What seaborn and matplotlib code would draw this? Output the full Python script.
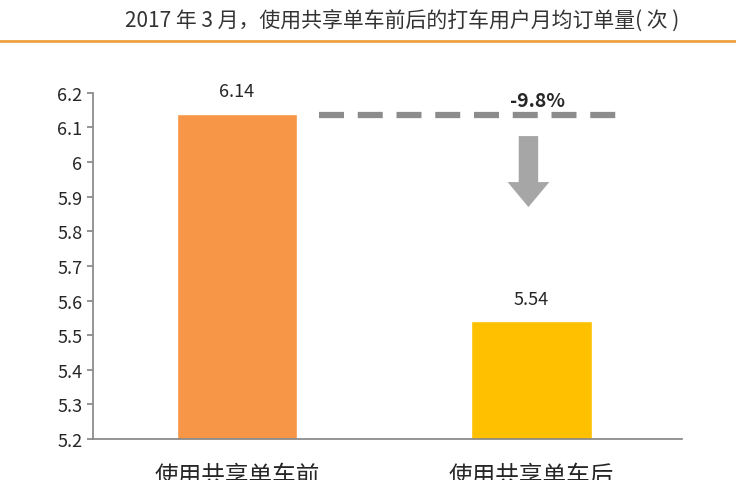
import matplotlib
matplotlib.use("Agg")
import matplotlib.pyplot as plt
import seaborn as sns
import pandas as pd

categories = ["使用共享单车前", "使用共享单车后"]
values = [6.14, 5.54]
colors = ["#F79646", "#FFC000"]
change_label = "-9.8%"
title = "2017 年 3 月，使用共享单车前后的打车用户月均订单量( 次 )"

sns.set_theme(style="white")
plt.rcParams['font.family'] = ['Noto Sans CJK SC', 'DejaVu Sans']

fig = plt.figure(figsize=(7.36, 4.81), dpi=100)
ax = fig.add_axes([0.126, 0.085, 0.80, 0.72])
df = pd.DataFrame({"cat": categories, "val": values})
sns.barplot(data=df, x="cat", y="val", hue="cat", palette=colors, width=0.41,
            legend=False, ax=ax, saturation=1)
ax.set_ylim(5.2, 6.2)
ax.set_xlim(-0.49, 1.51)
ax.set_yticks([5.2 + 0.1 * i for i in range(11)])
ax.set_yticklabels(["5.2", "5.3", "5.4", "5.5", "5.6", "5.7", "5.8", "5.9", "6", "6.1", "6.2"], fontsize=13)
ax.tick_params(axis='x', labelsize=17, pad=12)
ax.tick_params(axis='y', left=True, length=4, color="#888888")
ax.set_xlabel("")
ax.set_ylabel("")
for s in ["top", "right"]:
    ax.spines[s].set_visible(False)
for s in ["left", "bottom"]:
    ax.spines[s].set_color("#888888")
for i, v in enumerate(values):
    ax.text(i, v + 0.04, f"{v:.2f}", ha="center", va="bottom", fontsize=13)

ax.plot([0.28, 1.29], [6.135, 6.135], ls=(0, (4, 2.2)), lw=4.5, color="#8C8C8C")
ax.annotate("", xy=(0.99, 5.87), xytext=(0.99, 6.075),
            arrowprops=dict(facecolor="#A6A6A6", edgecolor="none", width=14, headwidth=30, headlength=18))
ax.text(1.02, 6.15, change_label, ha="center", va="bottom", fontsize=14, fontweight="bold")

fig.text(0.547, 0.955, title, ha="center", va="center", fontsize=15, color="#333333", fontweight="medium")
fig.add_artist(plt.Line2D([0, 1], [0.912, 0.912], color="#F0A040", lw=2))
fig.savefig("out.png", dpi=100)
